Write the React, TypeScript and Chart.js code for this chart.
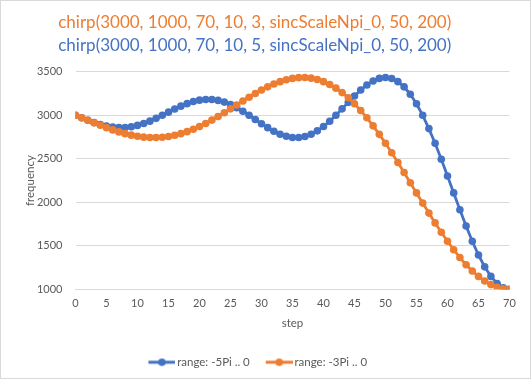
import React, { useEffect, useRef } from "react";
import { Chart, registerables } from "chart.js";

Chart.register(...registerables);

// ---- data ----
const STEPS = [
  0, 1, 2, 3, 4, 5, 6, 7, 8, 9, 10, 11, 12, 13, 14, 15, 16, 17, 18, 19, 20,
  21, 22, 23, 24, 25, 26, 27, 28, 29, 30, 31, 32, 33, 34, 35, 36, 37, 38, 39, 40,
  41, 42, 43, 44, 45, 46, 47, 48, 49, 50, 51, 52, 53, 54, 55, 56, 57, 58, 59, 60,
  61, 62, 63, 64, 65, 66, 67, 68, 69, 70,
];

// range: -5Pi .. 0
const BLUE_VALUES = [
  3000, 2971, 2943, 2917, 2894, 2877, 2864, 2859, 2860, 2868, 2884,
  2906, 2933, 2965, 3000, 3036, 3072, 3105, 3134, 3158, 3174,
  3182, 3181, 3171, 3152, 3124, 3088, 3046, 3000, 2952, 2903,
  2858, 2817, 2783, 2759, 2745, 2744, 2757, 2782, 2821, 2871,
  2932, 3000, 3074, 3149, 3222, 3290, 3349, 3395, 3424, 3435,
  3423, 3387, 3327, 3242, 3132, 3000, 2847, 2678, 2495, 2303,
  2108, 1914, 1727, 1552, 1394, 1258, 1148, 1067, 1017, 1000,
];

// range: -3Pi .. 0
const ORANGE_VALUES = [
  3000, 2971, 2942, 2913, 2885, 2858, 2832, 2809, 2789, 2772, 2759,
  2749, 2744, 2744, 2748, 2757, 2770, 2789, 2812, 2840, 2871,
  2906, 2945, 2986, 3029, 3074, 3119, 3164, 3208, 3250, 3290,
  3327, 3360, 3387, 3409, 3424, 3433, 3434, 3427, 3411, 3387,
  3354, 3312, 3261, 3201, 3132, 3056, 2971, 2879, 2781, 2678,
  2569, 2457, 2342, 2225, 2108, 1991, 1876, 1763, 1655, 1552,
  1455, 1365, 1283, 1211, 1148, 1095, 1054, 1024, 1006, 1000,
];

const SERIES_NAMES = ["range: -5Pi .. 0", "range: -3Pi .. 0"];
const TITLE_ORANGE = "chirp(3000, 1000, 70, 10, 3, sincScaleNpi_0, 50, 200)";
const TITLE_BLUE = "chirp(3000, 1000, 70, 10, 5, sincScaleNpi_0, 50, 200)";
const X_TITLE = "step";
const Y_TITLE = "frequency";

const X_MIN = 0;
const X_MAX = 70;
const X_STEP = 5;
const Y_MIN = 1000;
const Y_MAX = 3500;
const Y_STEP = 500;

// ---- styles ----
const FONT = "Lato";
const BLUE = "#4472C4";
const ORANGE = "#ED7D31";
const TEXT = "#595959";
const GRID = "#D9D9D9";

function legendIcon(color: string): HTMLCanvasElement {
  const c = document.createElement("canvas");
  c.width = 37;
  c.height = 10;
  const g = c.getContext("2d")!;
  g.strokeStyle = color;
  g.lineWidth = 3;
  g.beginPath();
  g.moveTo(10, 5);
  g.lineTo(37, 5);
  g.stroke();
  g.fillStyle = color;
  g.beginPath();
  g.arc(23.5, 5, 3.8, 0, Math.PI * 2);
  g.fill();
  return c;
}

const framePlugin = {
  id: "frame",
  beforeDraw(chart: any) {
    const { ctx, width, height } = chart;
    ctx.save();
    ctx.fillStyle = "#ffffff";
    ctx.fillRect(0, 0, width, height);
    ctx.strokeStyle = GRID;
    ctx.lineWidth = 1;
    ctx.strokeRect(0.5, 0.5, width - 1, height - 1);
    ctx.restore();
  },
};

export default function App() {
  const canvasRef = useRef<HTMLCanvasElement | null>(null);

  useEffect(() => {
    document.body.style.margin = "0";
    const canvas = canvasRef.current;
    if (!canvas) return;
    const icons = [legendIcon(BLUE), legendIcon(ORANGE)];

    const chart = new Chart(canvas, {
      type: "line",
      data: {
        datasets: [
          {
            label: SERIES_NAMES[0],
            data: STEPS.map((s, i) => ({ x: s, y: BLUE_VALUES[i] })),
            borderColor: BLUE,
            backgroundColor: BLUE,
            borderWidth: 2.8,
            pointRadius: 3.8,
            pointBorderWidth: 0,
            pointBackgroundColor: BLUE,
            tension: 0,
            order: 1,
          },
          {
            label: SERIES_NAMES[1],
            data: STEPS.map((s, i) => ({ x: s, y: ORANGE_VALUES[i] })),
            borderColor: ORANGE,
            backgroundColor: ORANGE,
            borderWidth: 2.8,
            pointRadius: 3.8,
            pointBorderWidth: 0,
            pointBackgroundColor: ORANGE,
            tension: 0,
            order: 0,
          },
        ],
      },
      options: {
        animation: false,
        responsive: false,
        maintainAspectRatio: false,
        devicePixelRatio: 1,
        layout: { padding: { top: 0, right: 21.5, bottom: 1, left: 0 } },
        plugins: {
          tooltip: { enabled: false },
          title: {
            display: true,
            text: TITLE_ORANGE,
            color: ORANGE,
            font: { family: FONT, size: 17, weight: "normal" },
            padding: { top: 12.5, bottom: 0 },
          },
          subtitle: {
            display: true,
            text: TITLE_BLUE,
            color: BLUE,
            font: { family: FONT, size: 17, weight: "normal" },
            padding: { top: 2, bottom: 16.5 },
          },
          legend: {
            display: true,
            position: "bottom",
            labels: {
              usePointStyle: true,
              pointStyleWidth: 29,
              color: TEXT,
              font: { family: FONT, size: 11.5 },
              padding: 10,
              generateLabels: (ch: any) =>
                ch.data.datasets.map((ds: any, i: number) => ({
                  text: ds.label,
                  pointStyle: icons[i],
                  fillStyle: ds.borderColor,
                  strokeStyle: ds.borderColor,
                  lineWidth: 0,
                  hidden: false,
                  datasetIndex: i,
                  fontColor: TEXT,
                })),
            },
          },
        },
        scales: {
          x: {
            type: "linear",
            min: X_MIN,
            max: X_MAX,
            ticks: {
              stepSize: X_STEP,
              color: TEXT,
              font: { family: FONT, size: 11 },
              padding: 8,
              maxRotation: 0,
              autoSkip: false,
              callback: (v: any) => String(v),
            },
            grid: { display: false, drawTicks: false },
            border: { display: true, color: GRID, width: 1 },
            title: {
              display: true,
              text: X_TITLE,
              color: TEXT,
              font: { family: FONT, size: 11.5 },
              padding: { top: 0, bottom: 16 },
            },
            afterFit: (s: any) => {
              s.height = 57.2;
            },
          },
          y: {
            min: Y_MIN,
            max: Y_MAX,
            ticks: {
              stepSize: Y_STEP,
              color: TEXT,
              font: { family: FONT, size: 11 },
              padding: 13,
              callback: (v: any) => String(v),
            },
            grid: { color: GRID, lineWidth: 1, drawTicks: false },
            border: { display: false },
            title: {
              display: true,
              text: Y_TITLE,
              color: TEXT,
              font: { family: FONT, size: 11.5 },
              padding: { top: 23, bottom: 0 },
            },
            afterFit: (s: any) => {
              s.width = 75.5;
            },
          },
        },
      },
      plugins: [framePlugin],
    } as any);

    return () => chart.destroy();
  }, []);

  return (
    <div style={{ width: 531, height: 379 }}>
      <canvas ref={canvasRef} width={531} height={379} style={{ display: "block" }} />
    </div>
  );
}
